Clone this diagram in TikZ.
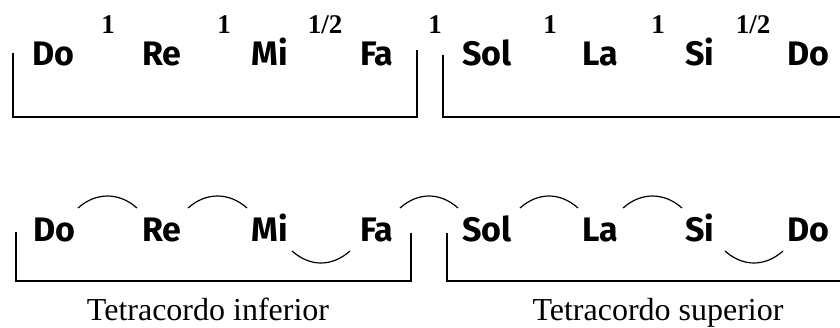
\documentclass[tikz,border=0pt]{standalone}
\usepackage{fontspec}
\setmainfont{Liberation Serif}
\newfontfamily\notefont{Fira Sans}[BoldFont={Fira Sans Bold}]
\begin{document}
\begin{tikzpicture}[x=1pt,y=-1pt,
  note/.style={anchor=base,inner sep=0pt,font=\notefont\bfseries\fontsize{34}{34}\selectfont},
  stepnum/.style={anchor=base,inner sep=0pt,font=\bfseries\fontsize{27}{27}\selectfont},
  caption/.style={anchor=base,inner sep=0pt,font=\fontsize{32}{32}\selectfont},
  line/.style={line width=1.4pt,black},
  slur/.style={line width=1.2pt,black}]
\useasboundingbox (0,0) rectangle (840,327);
% top row
\node[note] (t1) at (53,65) {Do};
\node[note] (t2) at (162,65) {Re};
\node[note] (t3) at (270,65) {Mi};
\node[note] (t4) at (377,65) {Fa};
\node[note] (t5) at (487,65) {Sol};
\node[note] (t6) at (600,65) {La};
\node[note] (t7) at (700,65) {Si};
\node[note] (t8) at (808,65) {Do};
\node[stepnum] (s1) at (108,33) {1};
\node[stepnum] (s2) at (224,33) {1};
\node[stepnum] (s3) at (325,33) {1/2};
\node[stepnum] (s4) at (435,33) {1};
\node[stepnum] (s5) at (550,33) {1};
\node[stepnum] (s6) at (658,33) {1};
\node[stepnum] (s7) at (753,33) {1/2};
\draw[line] (13,53) -- (13,117) -- (417,117) -- (417,50);
\draw[line] (443,55) -- (443,117) -- (841,117);
% bottom row
\node[note] (b1) at (54,241) {Do};
\node[note] (b2) at (162,241) {Re};
\node[note] (b3) at (270,241) {Mi};
\node[note] (b4) at (377,241) {Fa};
\node[note] (b5) at (487,241) {Sol};
\node[note] (b6) at (600,241) {La};
\node[note] (b7) at (700,241) {Si};
\node[note] (b8) at (808,241) {Do};
\foreach \a/\b in {78/137,188/247,400/458,520/578,623/682}{
  \draw[slur] (\a,208) .. controls (\a+18,192) and (\b-18,192) .. (\b,208);
}
\foreach \a/\b in {292/350,725/783}{
  \draw[slur] (\a,251) .. controls (\a+18,267) and (\b-18,267) .. (\b,251);
}
\draw[line] (16,232) -- (16,281) -- (411,281) -- (411,233);
\draw[line] (447,233) -- (447,281) -- (841,281);
\node[caption] (c1) at (208,320) {Tetracordo inferior};
\node[caption] (c2) at (658,320) {Tetracordo superior};
\end{tikzpicture}
\end{document}
